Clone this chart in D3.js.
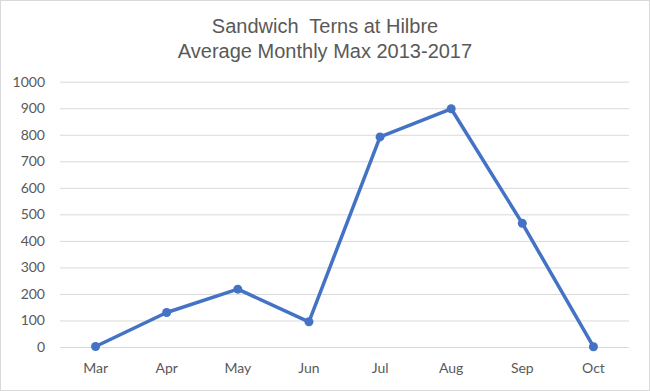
<!DOCTYPE html>
<html><head><meta charset="utf-8">
<script src="https://cdn.jsdelivr.net/npm/d3@7"></script>
<style>body{margin:0;background:#fff}svg{display:block}</style>
</head><body>
<script>
const titleLines = ["Sandwich  Terns at Hilbre", "Average Monthly Max 2013-2017"];
const months = ["Mar","Apr","May","Jun","Jul","Aug","Sep","Oct"];
const values = [2, 130, 218, 95, 792, 898, 466, 1];
const yTicks = [0,100,200,300,400,500,600,700,800,900,1000];

const W = 650, H = 391;
const m = {left: 60, right: 21, top: 81.7, bottom: 44};
const svg = d3.select("body").append("svg").attr("width", W).attr("height", H);
svg.append("rect").attr("x",0.5).attr("y",0.5).attr("width",W-1).attr("height",H-1)
  .attr("fill","#fff").attr("stroke","#d9d9d9");

const x = d3.scaleBand().domain(months).range([m.left, W - m.right]);
const y = d3.scaleLinear().domain([0,1000]).range([H - m.bottom, m.top]);

const t = svg.append("text").attr("text-anchor","middle").attr("fill","#595959")
  .style("font-family","'Liberation Sans', Arial, sans-serif").style("font-size","20px")
  .style("white-space","pre");
titleLines.forEach((l,i)=> t.append("tspan").attr("x", W/2).attr("y", 33 + i*24.7).text(l));

const yAxis = svg.append("g").attr("transform",`translate(${m.left},0)`)
  .call(d3.axisLeft(y).tickValues(yTicks).tickFormat(d3.format("d")).tickSize(-(W - m.left - m.right)).tickPadding(15));
yAxis.select(".domain").remove();
yAxis.selectAll(".tick line").attr("stroke","#d9d9d9").attr("stroke-width",1);
yAxis.selectAll("text").attr("fill","#595959").style("font-family","Lato, 'Open Sans', sans-serif").style("font-size","14px");

const xAxis = svg.append("g").attr("transform",`translate(0,${H - m.bottom})`)
  .call(d3.axisBottom(x).tickSize(0).tickPadding(16));
xAxis.select(".domain").remove();
xAxis.selectAll("text").attr("fill","#595959").style("font-family","Lato, 'Open Sans', sans-serif").style("font-size","14px");

const cx = d => x(d) + x.bandwidth()/2;
const data = months.map((mo,i)=>({mo, v: values[i]}));
svg.append("path").datum(data)
  .attr("fill","none").attr("stroke","#4472C4").attr("stroke-width",3.5).attr("stroke-linejoin","round")
  .attr("d", d3.line().x(d=>cx(d.mo)).y(d=>y(d.v)));
svg.selectAll("circle.pt").data(data).enter().append("circle").attr("class","pt")
  .attr("cx", d=>cx(d.mo)).attr("cy", d=>y(d.v)).attr("r",4.5).attr("fill","#4472C4");
</script>
</body></html>
